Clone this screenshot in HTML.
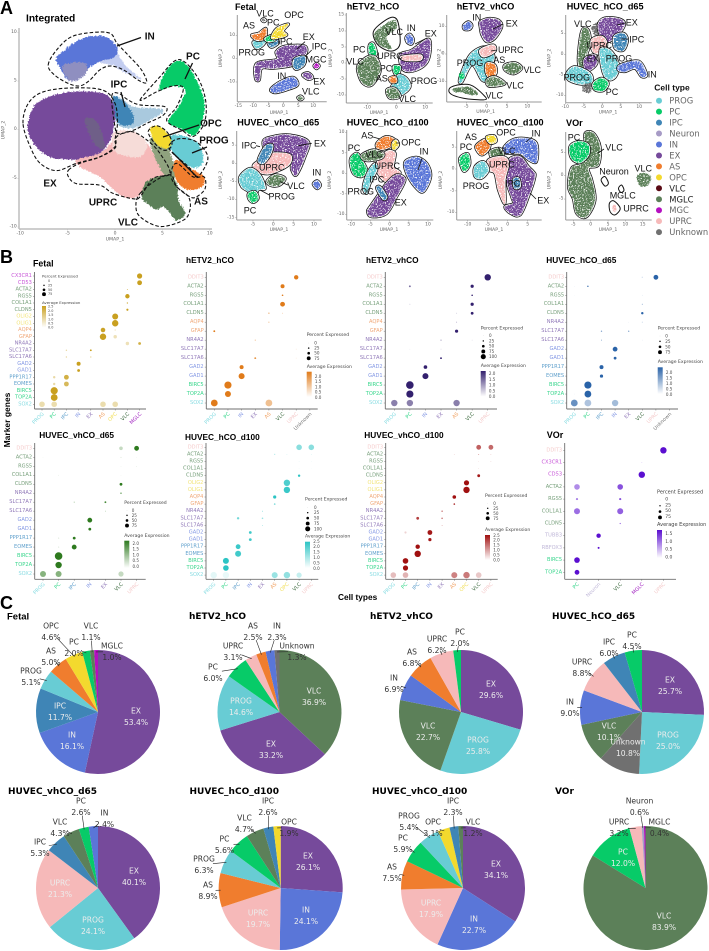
<!DOCTYPE html>
<html>
<head>
<meta charset="utf-8">
<title>Single-cell atlas figure</title>
<style>
html,body{margin:0;padding:0;background:#fff;width:709px;height:951px;overflow:hidden}
svg{display:block;font-family:"DejaVu Sans","Liberation Sans",sans-serif}
</style>
</head>
<body>
<svg id="figure" xmlns="http://www.w3.org/2000/svg" width="709" height="951" viewBox="0 0 709 951">
<defs>
<filter id="speckle" x="-15%" y="-15%" width="130%" height="130%" color-interpolation-filters="sRGB">
<feTurbulence type="fractalNoise" baseFrequency="0.75" numOctaves="2" seed="4" result="n"/>
<feDisplacementMap in="SourceGraphic" in2="n" scale="3" xChannelSelector="R" yChannelSelector="G" result="d"/>
<feColorMatrix in="n" type="matrix" values="0 0 0 0 0 0 0 0 0 0 0 0 0 0 0 9 0 0 0 -2.9" result="m"/>
<feComposite in="d" in2="m" operator="in"/>
</filter>
<filter id="rough" x="-10%" y="-10%" width="120%" height="120%" color-interpolation-filters="sRGB">
<feTurbulence type="fractalNoise" baseFrequency="0.6" numOctaves="2" seed="7" result="n"/>
<feDisplacementMap in="SourceGraphic" in2="n" scale="4" xChannelSelector="R" yChannelSelector="G"/>
</filter>
</defs>
</svg>
<script>
/* ---------- PANEL C: pie data ---------- */
const fetalPieLabels=["EX","IN","IPC","PROG","AS","OPC","PC","VLC","MGLC"];
const fetalPieValues=[53.4,16.1,11.7,5.1,5.0,4.6,2.0,1.1,1.0];
const etv2hCOPieLabels=["VLC","EX","PROG","PC","UPRC","AS","IN","Unknown"];
const etv2hCOPieValues=[36.9,33.2,14.6,6.0,3.1,2.5,2.3,1.3];
const etv2vhCOPieLabels=["EX","PROG","VLC","IN","AS","UPRC","PC"];
const etv2vhCOPieValues=[29.6,25.8,22.7,6.9,6.8,6.2,2.0];
const huvecD65PieLabels=["EX","PROG","Unknown","VLC","IN","UPRC","IPC","PC"];
const huvecD65PieValues=[25.7,25.0,10.8,10.1,9.0,8.8,6.0,4.5];
const huvecVhD65PieLabels=["EX","PROG","UPRC","IPC","VLC","PC","IN"];
const huvecVhD65PieValues=[40.1,24.1,21.3,5.3,4.3,2.6,2.4];
const huvecD100PieLabels=["EX","IN","UPRC","AS","PROG","PC","VLC","IPC","OPC"];
const huvecD100PieValues=[26.1,24.1,19.7,8.9,6.3,5.6,4.7,2.6,1.9];
const huvecVhD100PieLabels=["EX","IN","UPRC","AS","PC","PROG","OPC","IPC","VLC"];
const huvecVhD100PieValues=[34.1,22.7,17.9,7.5,5.9,5.4,3.1,2.3,1.2];
const vorPieLabels=["VLC","PC","UPRC","Neuron","MGLC"];
const vorPieValues=[83.9,12.0,3.2,0.6,0.4];

/* ---------- PANEL B: dot-plot data (gene, cell type, percent expressed, average expression) ---------- */
const fetalGenes=["CX3CR1","CD53","ACTA2","RGS5","COL1A1","CLDN5","OLIG2","OLIG1","AQP4","GFAP","NR4A2","SLC17A7","SLC17A6","GAD2","GAD1","PPP1R17","EOMES","BIRC5","TOP2A","SOX2"];
const fetalCats=["PROG","PC","IPC","IN","EX","AS","OPC","VLC","MGLC"];
const fetalDots=[["SOX2","PROG",65,.7],["SOX2","PC",65,.7],["SOX2","AS",65,.7],["SOX2","OPC",65,.7],["TOP2A","PC",80,2.5],["BIRC5","PC",85,2.5],["EOMES","PC",25,.8],["EOMES","IPC",55,1.7],["PPP1R17","PC",25,.8],["PPP1R17","IPC",55,2],["GAD1","IN",30,2.5],["GAD2","IN",45,2.5],["SLC17A6","IPC",12,1],["SLC17A6","EX",12,1],["SLC17A7","IPC",12,1],["SLC17A7","EX",18,2.5],["NR4A2","VLC",38,.6],["NR4A2","MGLC",30,2],["GFAP","AS",75,2.5],["GFAP","OPC",38,.6],["AQP4","AS",52,2.4],["AQP4","OPC",12,.6],["OLIG1","OPC",75,2.5],["OLIG2","OPC",70,2.5],["CLDN5","VLC",22,2.5],["COL1A1","VLC",12,2.2],["RGS5","VLC",50,2.5],["ACTA2","VLC",8,1.5],["CD53","MGLC",55,2.5],["CX3CR1","MGLC",60,2.5]];

const etv2hCOGenes=["DDIT3","ACTA2","RGS5","COL1A1","CLDN5","AQP4","GFAP","NR4A2","SLC17A7","SLC17A6","GAD2","GAD1","BIRC5","TOP2A","SOX2"];
const etv2hCOCats=["PROG","PC","IN","EX","AS","VLC","UPRC","Unknown"];
const etv2hCODots=[["DDIT3","UPRC",50,2],["ACTA2","VLC",45,2],["RGS5","VLC",15,2],["COL1A1","VLC",55,2],["CLDN5","AS",12,1],["CLDN5","VLC",8,.5],["AQP4","AS",8,1],["GFAP","PROG",18,2],["NR4A2","EX",8,1.2],["SLC17A7","UPRC",5,.4],["SLC17A6","EX",18,1.6],["SLC17A6","UPRC",5,.3],["GAD2","IN",45,2],["GAD1","IN",70,2],["BIRC5","PC",85,2],["TOP2A","PC",70,2],["SOX2","PROG",80,2],["SOX2","AS",80,.8]];

const etv2vhCOGenes=["DDIT3","ACTA2","RGS5","COL1A1","CLDN5","AQP4","GFAP","NR4A2","SLC17A7","SLC17A6","GAD2","GAD1","BIRC5","TOP2A","SOX2"];
const etv2vhCOCats=["PROG","PC","IN","EX","AS","VLC","UPRC"];
const etv2vhCODots=[["DDIT3","UPRC",75,2],["ACTA2","VLC",35,2],["ACTA2","PC",18,1.2],["RGS5","VLC",15,2],["COL1A1","VLC",35,2],["COL1A1","PC",8,.3],["CLDN5","VLC",30,2],["CLDN5","AS",8,.3],["AQP4","AS",8,.5],["GFAP","AS",35,2],["NR4A2","EX",8,1.2],["NR4A2","VLC",5,.3],["SLC17A7","EX",5,.4],["SLC17A7","PC",3,.2],["SLC17A6","EX",18,2],["GAD2","IN",40,2],["GAD1","IN",70,2],["BIRC5","PC",90,2],["TOP2A","PC",85,2],["SOX2","PROG",75,1],["SOX2","PC",75,1],["SOX2","AS",75,1]];

const huvecD65Genes=["DDIT3","ACTA2","RGS5","COL1A1","CLDN5","NR4A2","SLC17A7","SLC17A6","GAD2","GAD1","PPP1R17","EOMES","BIRC5","TOP2A","SOX2"];
const huvecD65Cats=["PROG","PC","IPC","IN","EX","VLC","UPRC","Unknown"];
const huvecD65Dots=[["DDIT3","UPRC",55,2],["DDIT3","VLC",12,.25],["ACTA2","PC",12,2],["ACTA2","PROG",3,.2],["RGS5","VLC",4,.3],["RGS5","PROG",3,.1],["COL1A1","VLC",8,1],["CLDN5","VLC",25,2],["NR4A2","VLC",8,.4],["NR4A2","EX",3,.2],["SLC17A7","IPC",10,1.4],["SLC17A7","EX",10,1.4],["SLC17A6","IPC",8,1],["SLC17A6","VLC",4,.2],["GAD2","IN",55,2],["GAD1","IN",30,2],["PPP1R17","IPC",45,2],["EOMES","IPC",35,2],["BIRC5","PC",85,2],["TOP2A","PC",80,2],["TOP2A","PROG",3,.2],["SOX2","PROG",80,1.3],["SOX2","PC",80,.6],["SOX2","IN",75,.7]];

const huvecVhD65Genes=["DDIT3","ACTA2","RGS5","COL1A1","CLDN5","NR4A2","SLC17A7","SLC17A6","GAD2","GAD1","PPP1R17","EOMES","BIRC5","TOP2A","SOX2"];
const huvecVhD65Cats=["PROG","PC","IPC","IN","EX","VLC","UPRC"];
const huvecVhD65Dots=[["DDIT3","UPRC",55,2],["DDIT3","VLC",40,.4],["ACTA2","VLC",6,.4],["ACTA2","PROG",3,.15],["ACTA2","UPRC",3,.15],["RGS5","VLC",3,.2],["RGS5","UPRC",3,.4],["COL1A1","PC",5,.2],["COL1A1","VLC",3,.15],["CLDN5","VLC",30,2],["NR4A2","VLC",12,1.6],["SLC17A7","IPC",8,.8],["SLC17A7","EX",18,1.7],["SLC17A6","EX",5,1],["GAD2","IN",55,2],["GAD1","IN",30,2],["PPP1R17","IPC",30,2],["PPP1R17","PC",10,.2],["EOMES","IPC",55,2],["EOMES","PC",10,.2],["BIRC5","PC",90,2],["TOP2A","PC",75,2],["SOX2","PROG",70,1],["SOX2","PC",70,1],["SOX2","VLC",60,.4]];

const huvecD100Genes=["DDIT3","ACTA2","RGS5","COL1A1","CLDN5","OLIG2","OLIG1","AQP4","GFAP","NR4A2","SLC17A7","SLC17A6","GAD2","GAD1","PPP1R17","EOMES","BIRC5","TOP2A","SOX2"];
const huvecD100Cats=["PROG","PC","IPC","IN","EX","AS","OPC","VLC","UPRC"];
const huvecD100Dots=[["DDIT3","VLC",65,1.2],["DDIT3","UPRC",65,1.2],["ACTA2","AS",10,.7],["ACTA2","OPC",6,.3],["ACTA2","UPRC",4,.5],["RGS5","VLC",5,.2],["RGS5","UPRC",3,.2],["COL1A1","VLC",3,.15],["COL1A1","UPRC",2,.15],["CLDN5","VLC",25,2.5],["OLIG2","OPC",75,2],["OLIG1","OPC",75,2.3],["AQP4","AS",35,2.5],["GFAP","AS",15,1.4],["NR4A2","EX",6,1.4],["SLC17A7","IPC",25,1.5],["SLC17A7","EX",15,1],["SLC17A6","EX",6,1],["GAD2","IN",30,2.2],["GAD1","IN",30,2.2],["PPP1R17","IPC",55,2.3],["EOMES","IPC",70,2.2],["BIRC5","PC",70,2.5],["TOP2A","PC",65,2.5],["SOX2","PROG",75,.2],["SOX2","PC",75,.15],["SOX2","AS",70,1],["SOX2","OPC",75,1.1],["SOX2","VLC",60,.5]];

const huvecVhD100Genes=["DDIT3","ACTA2","RGS5","COL1A1","CLDN5","OLIG2","OLIG1","AQP4","GFAP","NR4A2","SLC17A7","SLC17A6","GAD2","GAD1","PPP1R17","EOMES","BIRC5","TOP2A","SOX2"];
const huvecVhD100Cats=["PROG","PC","IPC","IN","EX","AS","OPC","VLC","UPRC"];
const huvecVhD100Dots=[["DDIT3","VLC",55,1.5],["DDIT3","UPRC",55,1.4],["ACTA2","AS",6,.3],["ACTA2","VLC",6,1.2],["ACTA2","UPRC",4,.6],["RGS5","VLC",3,.3],["RGS5","UPRC",5,.4],["COL1A1","VLC",3,.4],["CLDN5","VLC",30,2.4],["OLIG2","OPC",60,2.5],["OLIG1","OPC",75,2.5],["AQP4","AS",40,2.5],["GFAP","AS",15,2.2],["NR4A2","EX",12,1.5],["SLC17A7","IPC",30,1.9],["SLC17A7","EX",15,1.2],["SLC17A6","EX",6,.8],["GAD2","IN",55,2.4],["GAD2","PC",22,.3],["GAD1","IN",35,2.4],["PPP1R17","IPC",50,2.5],["EOMES","IPC",75,2.5],["BIRC5","PC",65,2.5],["TOP2A","PC",60,2.5],["SOX2","PROG",65,.5],["SOX2","PC",65,.6],["SOX2","AS",70,1.1],["SOX2","OPC",75,1.2],["SOX2","VLC",65,.4]];

const vorGenes=["DDIT3","CX3CR1","CD53","ACTA2","RGS5","COL1A1","CLDN5","TUBB3","RBFOX3","BIRC5","TOP2A"];
const vorCats=["PC","Neuron","VLC","MGLC","UPRC"];
const vorDots=[["DDIT3","UPRC",75,1.5],["CX3CR1","MGLC",8,.15],["CD53","MGLC",75,1.5],["ACTA2","PC",65,.6],["ACTA2","VLC",65,1],["RGS5","PC",22,.7],["RGS5","VLC",22,1],["COL1A1","PC",70,.8],["COL1A1","VLC",70,.9],["CLDN5","VLC",10,.9],["TUBB3","Neuron",50,1.5],["RBFOX3","Neuron",20,1.5],["BIRC5","PC",65,1.5],["TOP2A","PC",55,1.5]];

/* ---------- PANEL A: UMAP regions in UMAP units ---------- */
const integratedRegions=[
["INpale",[[-.2,8.2],[1.2,6.5],[2.8,5.2],[1.4,5.7],[-.2,6.6],[-1.6,7]]],
["IPCpale",[[.5,3.2],[1.9,2.35],[4.4,2.2],[5.1,1.85],[3.35,.8],[1.9,.15],[.2,.65]]],
["IPC",[[-.2,3.4],[1,2.8],[1.9,1.5],[1.75,.5],[.2,.8]]],
["IN",[[-6.2,7.3],[-5.3,8.2],[-4.2,9],[-2.6,9.6],[-.9,9.5],[.2,8.5],[0,7.5],[-1.6,7],[-2.8,6.3],[-3.7,5.3],[-4.9,5.1],[-5.6,6]]],
["INmix",[[-5.5,6.6],[-3.4,6.9],[-2.9,6.2],[-3.7,5.2],[-4.9,5.1]]],
["EX",[[-9.2,.65],[-8.45,2.5],[-6.9,3.4],[-4.4,3.9],[-1.6,3.8],[-.35,3.05],[0,1.3],[-.5,-1.05],[-1.6,-2.4],[-3.35,-3.05],[-5.1,-3.05],[-6.9,-2.8],[-8.3,-1.75],[-9.05,-.55]]],
["EXmix",[[-3.2,1],[-2,.9],[-1.2,-1],[-1.2,-2],[-2.2,-1.4]]],
["UPRC",[[0,-.2],[1.9,-.2],[3.35,-1.4],[4.75,-3.45],[5.45,-4.5],[3.7,-5.85],[2.3,-6.9],[.9,-6.9],[-.5,-5.85],[-1.6,-4.85],[-3.7,-3.8],[-4.05,-3.1],[-1.6,-2.4],[-.35,-1.25]]],
["UPRCpale",[[0,-.2],[1.9,-.2],[3.35,-1.4],[2.6,-2.8],[.2,-2.4],[-.3,-1.2]]],
["VLCmix",[[3.7,-.9],[5.3,-1.4],[6.3,-3.8],[6.15,-5.15],[5.1,-4.5],[4.2,-2.75]]],
["VLC",[[3.35,-5.35],[5.45,-4.65],[6.5,-5.5],[6.7,-7.2],[7.4,-8.6],[6.5,-9.3],[5.8,-8.6],[5.1,-7.9],[4.4,-8.2],[3.35,-7.55],[2.8,-6.9]]],
["PC",[[5.1,5.6],[6.35,7],[7.4,6.8],[8.6,5.1],[9.4,3.05],[9.3,1.35],[8.45,-.55],[6.85,.15],[5.6,.8],[6.7,2.35],[7.4,4.1],[6.15,4.5],[4.75,4.1]]],
["PROG",[[5.8,-.7],[6.85,-.55],[8.6,-1.25],[9.3,-2.8],[8.95,-3.8],[7.9,-3.8],[6.5,-2.75],[5.8,-1.9]]],
["AS",[[6.5,-3.1],[7.9,-3.95],[9.4,-4.85],[9.15,-5.85],[7.9,-6.2],[6.85,-5.7],[6.15,-4.15]]],
["OPC",[[3.7,.15],[4.75,.3],[5.8,-.7],[5.8,-1.75],[5.1,-1.9],[4.2,-1.25]]]
];
const integratedOutlines=[
[[-7.05,6.65],[-6.15,8.2],[-4.6,9.55],[-2.3,10],[-.5,9.9],[.2,8.9],[1.4,7.65],[2.8,6.15],[3.35,4.85],[2.45,5.1],[.9,6.15],[-.5,6.55],[-1.6,6.15],[-2.65,5.1],[-3.7,4.5],[-4.9,4.75],[-6.35,5.6]],
[[-9.7,.65],[-9.15,2.7],[-7.55,3.9],[-4.4,4.3],[-1.25,4.05],[0,2.7],[.25,.65],[0,-1.05],[0,-1.9],[-1.6,-2.8],[-4.05,-3.45],[-6.15,-4.2],[-7.9,-3.45],[-8.95,-1.75]],
[[-.35,3.4],[.35,3.75],[1.4,3.05],[2.65,2.55],[5.3,2.35],[5.1,1.5],[3.35,.65],[1.95,-.05],[.35,-.4],[0,.3]],
[[2.65,3.05],[4.75,5.45],[6.35,7.1],[7.55,6.8],[8.95,4.95],[9.6,2.7],[9.4,.65],[8.25,-.7],[7.05,-.05],[5.45,.95],[6.5,2.35],[7.2,4.25],[6.15,4.5],[4.4,3.9]],
[[3.5,-.2],[4.4,.4],[5.45,-.2],[6,-1.25],[5.8,-1.9],[5.1,-2.1],[4.2,-1.4]],
[[6,-1.25],[7.05,-.9],[8.6,-1.25],[9.75,-2.6],[9.5,-3.8],[8.6,-4.85],[7.75,-3.8],[5.8,-2.1]],
[[5.9,-4.65],[6.5,-3.45],[8.25,-4.85],[9.4,-4.85],[9.5,-6.05],[8.6,-6.9],[7.9,-6.9],[6.5,-5.85]],
[[-4.9,-4.15],[-3.7,-3.45],[-1.6,-2.8],[0,-1.75],[.2,-.7],[1.75,-.2],[3.35,-1.05],[4.75,-2.45],[5.8,-4.5],[4.05,-5],[2.65,-6.9],[1.95,-7.1],[-.2,-6.55],[-1.6,-5.7],[-4.05,-5.55],[-4.9,-4.85]],
[[2.65,-6.55],[4.4,-5.15],[5.9,-4.65],[6.5,-5.85],[7.75,-6.9],[7.9,-8.25],[7.2,-9.3],[4.75,-9.95],[2.65,-8.95],[2.2,-7.75]]
];
const fetalRegions=[
["EX",[[-8.9,-2],[-2.2,-.3],[-2.4,3],[.6,5.4],[7.2,5.4],[7.2,1.6],[3.3,.6],[3.3,-2.7],[-3.3,-4.1],[-7.2,-4.1],[-8,-9.1],[-9.3,-8.4]]],
["IPC",[[3.9,.1],[7.2,.9],[6.9,-2.7],[4.4,-4.6],[3.3,-2.7]]],
["IN",[[-4.2,-13.1],[-1.1,-9.9],[3.3,-8],[4.8,-11.3],[1.1,-13.4],[-2.8,-14.6]]],
["PROG",[[-10,7.3],[-6.1,8],[-6.7,5.9],[-8.9,4.4]]],
["AS",[[-10.6,10.1],[-8.3,10.9],[-5.8,13],[-6.1,8.7],[-8.9,8]]],
["IPC",[[-5,6.9],[-2.2,8],[-1.7,6.6],[-3.9,4.9]]],
["PC",[[-6.1,8.7],[-3.3,10.1],[-2.8,8],[-5,7.3]]],
["OPC",[[-3.9,9.1],[-2.2,13],[1.7,14.9],[0,12],[1.1,10.1],[-2.2,8.7]]],
["MGC",[[10.2,-3.1],[11.1,-2],[12,-3.1],[11.1,-4.3]]],
["EX",[[6.4,-7],[8.3,-6],[9.8,-8],[8.3,-8.9]]],
["VLC",[[4.8,-16.7],[5.8,-16],[6.6,-17],[5.6,-17.7]]],
["Unknown",[[-7.2,16.6],[-6.5,17.2],[-5.8,16.4],[-6.5,15.9]]]
];
const etv2hCORegions=[
["OUT",[[-7.9,9.8],[-4.5,12.9],[-1,14.3],[.7,12.4],[1.3,6.2],[-.5,4],[-3.4,4],[-6.8,6.2]]],
["VLC-",[[-7.5,9.3],[-3.3,12.4],[-.5,13.5],[.1,10.9],[-3.3,8.2],[-1.6,4.5],[-4.5,5],[-6.8,6.7]]],
["PC",[[-9.3,5.6],[-7.9,6.1],[-6.8,3],[-7.9,2],[-9.3,3]]],
["VLC",[[-13.1,-.6],[-9.7,2],[-6.8,1.5],[-5.6,-2.7],[-8.5,-6.9],[-11.4,-6.4],[-13.1,-3.3]]],
["IN",[[3.3,8],[4.7,9],[5.9,7.4],[5.3,5.9],[3.8,6.4]]],
["EX",[[1.3,2.5],[5.3,4],[11.3,7.4],[11,.9],[7,-2.2],[2.4,-2.2]]],
["UPRC",[[1.8,2],[8.2,2.5],[8.2,.9],[3,.9]]],
["PC",[[-1,-1.1],[1.3,-1.1],[.7,-3.75],[-.5,-3.4]]],
["PROG",[[.7,-3.75],[3.6,-4.8],[4.7,-7.6],[1.3,-10],[-1.6,-7.9],[-1,-6.4]]],
["AS",[[-2.4,-4.8],[-.5,-4.3],[.1,-5.8],[-1.6,-6.1]]],
["VLC",[[-3.3,-8.4],[-.5,-7.9],[1.3,-10.5],[-2.2,-11]]]
];
const etv2vhCORegions=[
["EX",[[-1.6,11.8],[.4,13],[2.9,12.4],[3.7,10],[2,5.7],[0,4.5],[-1.2,7],[-1.6,9.9]]],
["IN",[[-5.7,10.5],[-4.5,11.8],[-3.6,10.5],[-4.2,9],[-5.5,9]]],
["PROG",[[-6.6,-8.8],[-4.1,-.4],[-.4,2.6],[1.8,-1.1],[.1,-8.8],[-1.2,-9.5],[-3.6,-4],[-6.1,-10.3]]],
["UPRC",[[-1.6,1.5],[1.6,3.3],[2,.9],[-.8,-1]]],
["AS",[[0,-3.4],[2,-4],[2.3,-7.1],[.8,-8.9],[-.2,-6.5]]],
["VLC",[[4.5,-4],[7,-3.2],[8.6,-5.2],[6.6,-7.3],[4.5,-5.9]]],
["VLC",[[0,-9.5],[2,-8.3],[4.5,-10.7],[2.5,-11.7],[.4,-11.7]]],
["OUT",[[-8.6,-12],[-4.1,-11.3],[-.4,-15.6],[-.8,-16.8],[-5.7,-16.2],[-9,-14.4]]],
["VLC-",[[-8,-12.6],[-4.5,-12],[-2,-14.6],[-4,-15],[-6,-14],[-8,-14]]],
["PC-",[[-6.6,-7],[-5.6,-7],[-5.6,-9],[-6.6,-9]]]
];
const huvecD65Regions=[
["VLC",[[-5.6,5.5],[-3.8,5.9],[-3.2,2.7],[-4.2,-.2],[-3.8,-3],[-5.1,-4.2],[-6.5,-1.8]]],
["Unknown-",[[-2.9,6.7],[-.8,7.5],[-1.1,3.5],[-2.4,5.1]]],
["EX",[[-1.1,7.1],[.7,8.8],[4.8,8.5],[6,7.1],[3.9,4.3],[1.2,3],[-.2,3.9]]],
["IPC",[[3.2,4.3],[5.7,5.1],[6.8,3.5],[5.7,1],[3.4,1.5]]],
["UPRC",[[-2.9,3.5],[-.2,4.3],[1.2,2.7],[.3,.2],[-2.4,.6]]],
["PROG",[[-.6,1],[2.1,1],[4.3,-2.2],[3.9,-5],[2.1,-6.2],[.3,-4.6]]],
["EX",[[-4.7,-1],[-2,-.2],[-1.5,-2.2],[-3.3,-3.8],[-4.7,-3.4]]],
["PROG",[[-9.6,-4.6],[-7.4,-3],[-3.3,-4.6],[-2.9,-7],[-6,-7.2],[-9.1,-6.2]]],
["Unknown-",[[-5.1,-7.4],[-2.9,-7],[-3.3,-9.3],[-5.1,-9]]],
["PC",[[-2.4,-7],[-.2,-5.8],[1.6,-7],[.3,-8.8],[-2,-8.6]]],
["IN",[[4.8,-2.6],[8.8,-1.6],[10.6,-2.2],[12,-5],[10.6,-5.4],[8.8,-3.4],[6.1,-4.2],[4.3,-3.8]]]
];
const huvecVhD65Regions=[
["EX",[[-2.5,6],[-.4,7.3],[4.1,7.8],[8.6,6],[7.8,1.8],[5.7,-3.2],[4.5,-1.8],[4.1,1.4],[0,2.8],[-1.6,2.3]]],
["UPRC",[[-4.9,-.5],[-2,1.8],[0,2.8],[4.1,2.3],[3.7,-.5],[-.8,-2.8],[-3.7,-2.3]]],
["IPC",[[-3.7,.9],[-2,4.6],[-.2,5],[-.8,2.3],[-2.5,0]]],
["PROG",[[-8.2,-3.7],[-5.7,-1.4],[-3.3,-3.2],[-2,-6.9],[-3.7,-7.3],[-4.5,-10.1],[-6.1,-7.8],[-7.8,-6.4]]],
["VLC",[[-1.6,-5],[.4,-3.2],[2.9,-4.1],[1.6,-6],[-.4,-6.2]]],
["PC",[[-6.1,-8.3],[-4.5,-7.8],[-3.7,-9.6],[-4.9,-10.8],[-6,-9.9]]],
["IN",[[9.8,-5.7],[10.8,-4.8],[11.6,-6],[10.8,-7]]]
];
const huvecD100Regions=[
["PC",[[-10.3,3.3],[-8.6,4.9],[-7.3,3.3],[-6,.8],[-7.3,-.8],[-9.5,0]]],
["AS",[[-3.4,7.3],[-1.2,8.9],[1,8.5],[1.4,7.3],[-.8,6.1],[-3,5.9]]],
["OPC",[[.7,7.3],[1.7,8.1],[2.3,6.9],[1,5.7]]],
["UPRC",[[-3.4,2.4],[-.8,5.3],[1.4,4.9],[1,1.6],[2.7,0],[-.8,-2],[-3,0]]],
["VLC",[[-7.3,4.5],[-4.3,5.7],[-1.7,4.9],[-2.1,3.7],[-5.1,3.1],[-6.8,3.3]]],
["PROG",[[-6.9,-3.3],[-5.6,.4],[-3.8,2.4],[-3.4,.8],[-5.1,-2.4],[-6,-4.9]]],
["EX",[[-5.1,-8.1],[-3,-5.3],[-.8,-2.4],[1.8,-.4],[4,-1.6],[1.8,-5.7],[-.8,-9.8],[-4.7,-10.6],[-5.8,-9.3]]],
["IPC",[[-3.4,-3.7],[-2.5,-3.3],[-.8,-5.7],[-1.7,-6.3]]],
["IN",[[4,2.8],[7,3.9],[9.7,2.4],[10.7,-.8],[8.8,-4.5],[6.6,-3.3],[4.4,0]]]
];
const huvecVhD100Regions=[
["PC",[[-12,2.4],[-10,3.5],[-9.5,1],[-11,-.5]]],
["IN",[[-1.1,4.7],[1,6.6],[4.3,7],[7.2,5.9],[7.2,1.7],[5.2,2.1],[3.1,3.6],[-.3,3.6]]],
["AS",[[-7.8,5.5],[-5.7,6.8],[-4.4,6.3],[-4.8,4.4],[-6.5,3.2],[-7.8,4.4]]],
["OPC",[[-5.3,7.3],[-3.4,7.6],[-2.9,6.3],[-4.4,5.9]]],
["VLC",[[-4.4,4],[-1.9,4.7],[-1.1,2.8],[-3.6,2.2]]],
["EX",[[.2,2],[3.1,2.8],[5.2,.5],[6.4,-.6],[6.8,-1.8],[5.2,-6.3],[3.1,-10.5],[.6,-10.1],[-.7,-8.6],[1.4,-7.9],[1,-6.4],[-.3,-2.5]]],
["UPRC",[[-4.8,2.1],[-1.1,2.8],[.2,1.3],[-.7,-2.5],[-.7,-7.9],[-2.3,-4.8],[-3.2,-1],[-4.8,-.2]]],
["PROG",[[-8.2,.5],[-6.1,1.7],[-4.8,-.2],[-6.5,-2.1],[-8.2,-1.7]]],
["IPC",[[1.4,-2.5],[2.7,-2.1],[3.1,-4],[1.8,-4.4]]]
];
const vorRegions=[
["VLC",[[-1.6,9.1],[.8,9.1],[2.7,6.2],[2.2,2.3],[-.7,1.6],[.3,-.9],[1.25,-5.2],[-1.2,-8.8],[-4,-8.1],[-5,-5],[-6.4,-2.4],[-5.5,1.6],[-2.6,2.6],[-1.6,6.2]]],
["PC",[[-6,6.2],[-3.6,7.3],[-.7,6.6],[-.7,4.4],[-3.1,2.8],[-5.5,3.7]]],
["VLC-",[[13.3,-.2],[15.2,.6],[17.4,-.2],[16.6,-2],[14.2,-2.2]]],
["OUT",[[3,-.9],[4.1,-.2],[5.1,-1.6],[4.1,-2.2]]],
["OUT",[[8,-2.7],[8.9,-2],[9.6,-3.1],[8.7,-3.6]]],
["OUT",[[5.4,-5.9],[6.7,-5.4],[8.5,-7],[7,-8.4],[5.6,-7.7]]],
["UPRC-",[[6.3,-6.5],[7.2,-6.4],[7.4,-7.6],[6.6,-7.7]]]
];

/* ---------- styling & layout (not data) ---------- */
const NS='http://www.w3.org/2000/svg';
const svg=document.getElementById('figure');
const COLORS={PROG:'#68ccd4',PC:'#07cb68',IPC:'#3f85b6',Neuron:'#a79bc6',IN:'#5a76d8',EX:'#764a9b',AS:'#f07d2e',OPC:'#f3d92e',VLC:'#5c8059',MGLC:'#b40fc0',MGC:'#b40fc0',UPRC:'#f6b9b9',Unknown:'#707070',INpale:'#c3cdf0',INmix:'#8f8fc0',IPCpale:'#a9c9de',EXmix:'#6f5f88',UPRCpale:'#f6dcd8',VLCmix:'#8fa27e',OUT:'#ffffff'};
const GENE_COLORS={DDIT3:'#f5cccc',ACTA2:'#78a07c',RGS5:'#78a07c',COL1A1:'#78a07c',CLDN5:'#78a07c',OLIG1:'#f2e47a',OLIG2:'#f2e47a',AQP4:'#f0a878',GFAP:'#f0a878',NR4A2:'#9078b8',SLC17A6:'#9078b8',SLC17A7:'#9078b8',GAD1:'#8498e4',GAD2:'#8498e4',PPP1R17:'#60a0cc',EOMES:'#60a0cc',BIRC5:'#38d68c',TOP2A:'#38d68c',SOX2:'#88dce2',CX3CR1:'#c858d8',CD53:'#c858d8',TUBB3:'#c0b8d8',RBFOX3:'#c0b8d8'};
const CAT_COLORS={PROG:'#88dce2',PC:'#38d68c',IPC:'#60a0cc',IN:'#8498e4',EX:'#9078b8',AS:'#f0a060',OPC:'#f2e060',VLC:'#3f6d42',MGLC:'#a020c0',UPRC:'#f5cccc',Unknown:'#777777',Neuron:'#c0b8d8'};
const LIB='"Liberation Sans",sans-serif';

function make(tag,attrs,parent){
  const e=document.createElementNS(NS,tag);
  for(const k in attrs)e.setAttribute(k,attrs[k]);
  (parent||svg).appendChild(e);
  return e;
}
function group(name,parent){
  const g=make('g',{},parent);
  
  
  return g;
}
function drawText(name,txt,x,y,size,fill,parent,extra){
  const attrs={x:x,y:y,'font-size':size,fill:fill,'dominant-baseline':'central'};
  if(extra)for(const k in extra)attrs[k]=extra[k];
  const t=make('text',attrs,parent);
  t.textContent=txt;
  
  
  return t;
}
function drawLine(name,x1,y1,x2,y2,stroke,w,parent){
  const l=make('line',{x1:x1,y1:y1,x2:x2,y2:y2,stroke:stroke,'stroke-width':w},parent);
  
  
  return l;
}
function smoothPath(pts){
  const n=pts.length;let d='M'+pts[0][0].toFixed(1)+' '+pts[0][1].toFixed(1);
  for(let i=0;i<n;i++){
    const p0=pts[(i-1+n)%n],p1=pts[i],p2=pts[(i+1)%n],p3=pts[(i+2)%n];
    const c1x=p1[0]+(p2[0]-p0[0])/6,c1y=p1[1]+(p2[1]-p0[1])/6,c2x=p2[0]-(p3[0]-p1[0])/6,c2y=p2[1]-(p3[1]-p1[1])/6;
    d+='C'+c1x.toFixed(1)+' '+c1y.toFixed(1)+' '+c2x.toFixed(1)+' '+c2y.toFixed(1)+' '+p2[0].toFixed(1)+' '+p2[1].toFixed(1);
  }
  return d+'Z';
}
function mixWhite(hex,t){
  t=Math.max(0,Math.min(1,t));
  const c=[1,3,5].map(i=>parseInt(hex.substr(i,2),16));
  return 'rgb('+c.map(v=>Math.round(255+(v-255)*t)).join(',')+')';
}

/* ---------- fixed figure text ---------- */
const bigStyle={'font-family':LIB,'font-weight':'bold'};
drawText('panel-a-letter','A',0,8,18,'#000',svg,bigStyle);
drawText('panel-b-letter','B',0,257,18,'#000',svg,bigStyle);
drawText('panel-c-letter','C',0,603,18,'#000',svg,bigStyle);
drawText('x-axis-title-cell-types','Cell types',338,597,8.3,'#000',svg,bigStyle);
drawText('y-axis-title-marker-genes','Marker genes',0,0,8.5,'#000',svg,Object.assign({transform:'translate(7,420) rotate(-90)','text-anchor':'middle'},bigStyle));

/* ---------- UMAP panels ---------- */
function drawUmap(cfg){
  const g=group('umap-'+cfg.id);
  const sx=u=>cfg.x0+cfg.kx*u, sy=v=>cfg.y0-cfg.ky*v;
  const axisColor=cfg.axisColor||'#9a9a9a', axisW=cfg.axisW||1;
  drawLine('umap-y-axis',cfg.left,cfg.top,cfg.left,cfg.bottom,axisColor,axisW,g);
  drawLine('umap-x-axis',cfg.left,cfg.bottom,cfg.right,cfg.bottom,axisColor,axisW,g);
  cfg.xTicks.forEach(t=>{
    drawLine('umap-x-tick',sx(t),cfg.bottom,sx(t),cfg.bottom+1.5,axisColor,.6,g);
    drawText('umap-x-tick-label',String(t),sx(t),cfg.bottom+5,4.5,'#666',g,{'text-anchor':'middle'});
  });
  cfg.yTicks.forEach(t=>{
    drawLine('umap-y-tick',cfg.left-1.5,sy(t),cfg.left,sy(t),axisColor,.6,g);
    drawText('umap-y-tick-label',String(t),cfg.left-2.2,sy(t),4.5,'#666',g,{'text-anchor':'end'});
  });
  drawText('umap-x-axis-title','UMAP_1',cfg.xt[0],cfg.xt[1],4.7,'#666',g,{'text-anchor':'middle'});
  drawText('umap-y-axis-title','UMAP_2',0,0,4.7,'#666',g,{'text-anchor':'middle',transform:'translate('+cfg.yt[0]+','+cfg.yt[1]+') rotate(-90)'});
  const titleStyle={'font-family':LIB,'font-weight':'bold'};
  drawText('umap-title',cfg.title,cfg.tx,cfg.ty,cfg.tsize||9.1,'#000',g,titleStyle);
  cfg.regions.forEach(r=>{
    const noOutline=r[0].endsWith('-');
    const type=noOutline?r[0].slice(0,-1):r[0];
    const d=smoothPath(r[1].map(p=>[sx(p[0]),sy(p[1])]));
    if(!noOutline&&!cfg.noStroke){
      const oBlack=make('path',{d:d,fill:'#fff',stroke:'#111','stroke-width':type==='OUT'?1:3,'stroke-linejoin':'round'},g);
      
      
      if(type!=='OUT'){
        const oWhite=make('path',{d:d,fill:'#fff',stroke:'#fff','stroke-width':1.5,'stroke-linejoin':'round'},g);
        
        
      }
    }
    if(type!=='OUT'){
      const f=make('path',{d:d,fill:COLORS[type],filter:'url(#'+(cfg.filter||'speckle')+')'},g);
      
      
    }
  });
  (cfg.outlines||[]).forEach(o=>{
    const p=make('path',{d:smoothPath(o.map(q=>[sx(q[0]),sy(q[1])])),fill:'none',stroke:'#111','stroke-width':1.1,'stroke-dasharray':'3.6 2'},g);
    
    
  });
  (cfg.leaders||[]).forEach(l=>{drawLine('cluster-leader',l[0],l[1],l[2],l[3],'#111',cfg.leaderW||.8,g);});
  cfg.labels.forEach(l=>{
    drawText('cluster-label-'+l[0],l[0],l[1],l[2],cfg.lsize||9,'#111',g,{'text-anchor':'middle','font-family':LIB,'font-weight':cfg.lweight||'normal'});
  });
}
const tickSet=[-10,-5,0,5,10];
const umapConfigs=[
{id:'integrated',title:'Integrated',tx:26,ty:19,tsize:10.2,x0:115,kx:9.48,y0:129.7,ky:9.73,left:19,top:28,bottom:229,right:212,axisColor:'#bdbdbd',axisW:1.5,xTicks:tickSet,yTicks:tickSet,xt:[115,240],yt:[4,130],regions:integratedRegions,outlines:integratedOutlines,filter:'rough',noStroke:true,lsize:10,lweight:'bold',leaderW:1.3,
 labels:[['IN',149.7,37],['PC',193,57],['IPC',119,85],['OPC',211,124],['PROG',214,141],['EX',50,184],['UPRC',103,203],['VLC',128,223],['AS',201,202]],
 leaders:[[117,46,141,37.5],[185,79,192.5,63],[125,107,121,92],[163,137,199,125],[192,153,207,147],[197,177,172,152]]},
{id:'fetal',title:'Fetal',tx:235,ty:7,x0:283.3,kx:3,y0:58.7,ky:2.33,left:237.3,top:15,bottom:101.7,right:326.7,xTicks:[-15,-10,-5,0,5,10],yTicks:[-10,0,10],xt:[279,113.7],yt:[221.7,58],regions:fetalRegions,
 labels:[['VLC',265,13.3],['OPC',294,15],['PC',273.3,22.7],['AS',249,25.3],['IPC',285,41.3],['EX',308.7,37],['IPC',319.3,46.7],['PROG',251.7,52.3],['MGC',316,59.3],['EX',319.3,81.3],['IN',281.7,76],['VLC',310.7,91.3]],
 leaders:[[296.7,49.3,305,41.7],[305,56.7,311.7,50]]},
{id:'hetv2-hco',title:'hETV2_hCO',tx:346.7,ty:6.5,x0:396.3,kx:2.9,y0:63,ky:3.2,left:346.3,top:13,bottom:103,right:432.7,xTicks:[-10,0,10],yTicks:[-10,-5,0,5,10,15],xt:[379,113.7],yt:[331.7,58],regions:etv2hCORegions,
 labels:[['VLC',394.3,32],['IN',411.3,28],['EX',430.7,33.3],['PC',359.3,49.3],['UPRC',390,56],['VLC',355,61.3],['PC',386,68.3],['AS',381.7,78.3],['PROG',424,81],['VLC',407.3,99]],
 leaders:[[415,44,427,38]]},
{id:'hetv2-vhco',title:'hETV2_vhCO',tx:456.7,ty:6.5,x0:486.7,kx:4.07,y0:54,ky:2.73,left:446.7,top:15,bottom:102,right:541.7,xTicks:[-5,0,5,10],yTicks:[-10,0,10],xt:[485.7,112.7],yt:[440,58],regions:etv2vhCORegions,
 labels:[['IN',476.7,17.3],['EX',511.7,23.3],['UPRC',510.7,50],['PROG',470,63],['AS',499.3,60],['VLC',532.3,70],['VLC',515,85.7],['VLC',494.3,95.7]],
 leaders:[[493,29,503,24],[491,51,497,50]]},
{id:'huvec-hco-d65',title:'HUVEC_hCO_d65',tx:566.7,ty:6.5,x0:602.3,kx:3.7,y0:54.3,ky:4.13,left:565.7,top:15,bottom:102.7,right:651.7,xTicks:tickSet,yTicks:[-10,-5,0,5],xt:[608,113],yt:[550,58],regions:huvecD65Regions,
 labels:[['VLC',582.7,24],['EX',631.7,22.7],['IPC',636.7,39.3],['UPRC',599.3,45.7],['EX',592.7,58.3],['PROG',619,58.7],['PROG',576.7,77.3],['PC',612,92],['IN',652.3,74.3]],
 leaders:[[617,25,625,23],[621,39,628,39]]},
{id:'huvec-vhco-d65',title:'HUVEC_vhCO_d65',tx:237.3,ty:122.7,x0:273.3,kx:4.07,y0:163.3,ky:3.63,left:236.7,top:131,bottom:220,right:321.7,xTicks:[-5,0,5,10],yTicks:[-15,-10,-5,0,5],xt:[279,230.7],yt:[221.7,180],regions:huvecVhD65Regions,
 labels:[['IPC',249,145.3],['EX',320,143.3],['UPRC',271.7,167.3],['VLC',296,186],['PROG',281.7,196.7],['PC',250,210.7],['IN',316.7,172.7]],
 leaders:[[298.3,145.7,311.7,143.3],[260,146.7,256,145.7],[260,190,269.3,195],[280,181.7,288,185]]},
{id:'huvec-hco-d100',title:'HUVEC_hCO_d100',tx:346.7,ty:122.7,x0:389.7,kx:3.83,y0:173.3,ky:4.1,left:346.7,top:130,bottom:220,right:433.3,xTicks:tickSet,yTicks:tickSet,xt:[389,230.7],yt:[330.7,180],regions:huvecD100Regions,
 labels:[['AS',367.3,135.3],['OPC',411,142.7],['PC',354,148],['VLC',374,154.3],['IN',424,151.7],['UPRC',387.3,166],['IPC',376.7,179.3],['PROG',360.7,191.3],['EX',400.7,202.7]],
 leaders:[[373,137,380,139],[396,143,400,143],[418,170,422,158]]},
{id:'huvec-vhco-d100',title:'HUVEC_vhCO_d100',tx:456.7,ty:122.7,x0:507.7,kx:4,y0:169,ky:4.37,left:456.7,top:131,bottom:220,right:541.7,xTicks:[-10,-5,0,5],yTicks:[-10,-5,0,5],xt:[494,230.7],yt:[441.7,180],regions:huvecVhD100Regions,
 labels:[['AS',471,137],['PC',466,147],['OPC',506,132.7],['IN',536,133.3],['VLC',506.7,151],['UPRC',501.7,164.3],['PROG',476,186],['IPC',512.7,183.3],['EX',543.3,200.7]],
 leaders:[[526,142,532,137],[530,193,536,199]]},
{id:'vor',title:'VOr',tx:566,ty:123,x0:590.7,kx:3.47,y0:175.7,ky:4.67,left:565.7,top:132,bottom:220,right:651.7,xTicks:[-5,0,5,10,15],yTicks:[-5,0,5],xt:[608,230.7],yt:[550,180],regions:vorRegions,
 labels:[['PC',574,137.3],['VLC',614,147.3],['VLC',643.3,168.3],['Neuron',614,171.3],['MGLC',622.7,195.3],['UPRC',636,208.3]],
 leaders:[[598,153,604,149]]}
];
umapConfigs.forEach(drawUmap);

/* ---------- cell type legend ---------- */
const legendTypes=["PROG","PC","IPC","Neuron","IN","EX","AS","OPC","VLC","MGLC","MGC","UPRC","Unknown"];
const legendGroup=group('cell-type-legend');
drawText('legend-title','Cell type',654.3,87.7,8.5,'#111',legendGroup,bigStyle);
legendTypes.forEach((t,i)=>{
  const y=100.7+i*10.95;
  const col=t==='VLC'?'#5a0a14':(t==='MGLC'?'#5c8059':COLORS[t]);
  const c=make('circle',{cx:659,cy:y,r:3,fill:col},legendGroup);
  
  
  const strong=t==='VLC'||t==='MGLC';
  drawText('legend-entry-'+t,t,669.3,y,8.4,strong?'#222':'#666',legendGroup);
});

/* ---------- dot plots ---------- */
function drawDotPlot(cfg){
  const g=group('dotplot-'+cfg.id);
  const yScale=i=>cfg.yFirst+i*cfg.yStep, xScale=i=>cfg.xFirst+i*cfg.xStep;
  const rScale=p=>.2+.04*p;
  const AX='#6f6f6f';
  drawText('dotplot-title',cfg.title,cfg.tx,cfg.ty,cfg.tsize||8.3,'#000',g,{'font-family':LIB,'font-weight':'bold'});
  drawLine('dotplot-y-axis',cfg.axisX,cfg.top,cfg.axisX,cfg.bottom,AX,.9,g);
  drawLine('dotplot-x-axis',cfg.axisX,cfg.bottom,cfg.right,cfg.bottom,AX,.9,g);
  cfg.genes.forEach((gene,i)=>{
    drawLine('gene-tick',cfg.axisX-1.5,yScale(i),cfg.axisX,yScale(i),AX,.5,g);
    drawText('gene-label-'+gene,gene,cfg.axisX-2.6,yScale(i),5.1,GENE_COLORS[gene],g,{'text-anchor':'end'});
  });
  cfg.cats.forEach((cat,i)=>{
    const x=xScale(i);
    drawLine('category-tick',x,cfg.bottom,x,cfg.bottom+1.5,AX,.5,g);
    drawText('category-label-'+cat,cat,0,0,5,CAT_COLORS[cat],g,{'text-anchor':'end',transform:'translate('+(x+1.5)+','+(cfg.bottom+4.5)+') rotate(-45)'});
  });
  cfg.dots.forEach(d=>{
    const gi=cfg.genes.indexOf(d[0]), ci=cfg.cats.indexOf(d[1]);
    const c=make('circle',{cx:xScale(ci),cy:yScale(gi),r:rScale(d[2]),fill:mixWhite(cfg.color,Math.pow(d[3]/cfg.maxExp,.8))},g);
    
    
  });
  const L=cfg.legend, fs=L.fs||4.6;
  drawText('percent-legend-title','Percent Expressed',L.x,L.pctY,fs,'#444',g);
  L.pct.forEach((p,i)=>{
    const y=L.dotY+i*L.dotStep;
    const c=make('circle',{cx:L.dotX,cy:y,r:Math.max(.25,rScale(p)*.6),fill:p===0?'#bbb':'#000'},g);
    
    
    drawText('percent-legend-label',String(p),L.labX,y,fs-.5,'#444',g);
  });
  drawText('average-legend-title','Average Expression',L.x,L.avgY,fs,'#444',g);
  const gid='grad-'+cfg.id;
  const defs=make('defs',{},g);
  const lg=make('linearGradient',{id:gid,x1:0,y1:0,x2:0,y2:1},defs);
  make('stop',{offset:'0','stop-color':cfg.color},lg);
  make('stop',{offset:'1','stop-color':'#ffffff'},lg);
  const bar=make('rect',{x:L.x,y:L.barTop,width:L.barW||5,height:L.barBot-L.barTop,fill:'url(#'+gid+')'},g);
  
  
  L.ticks.forEach((t,i)=>{
    const y=L.tick0+i*(L.tickN-L.tick0)/(L.ticks.length-1);
    drawText('colorbar-tick-label',t.toFixed(1),L.x+(L.labOff||8.2),y,fs-.5,'#444',g);
  });
}
const t25=[2.5,2,1.5,1,.5,0], t20=[2,1.5,1,.5,0];
const dotPlotConfigs=[
{id:'fetal',title:'Fetal',tx:33,ty:263.5,tsize:8.8,axisX:34.5,top:272,bottom:409,right:146,genes:fetalGenes,cats:fetalCats,dots:fetalDots,color:'#c9a020',maxExp:2.5,yFirst:276,yStep:6.75,xFirst:42,xStep:12.2,
 legend:{x:42,pctY:276,dotX:44,dotY:281,dotStep:4.4,labX:48,pct:[0,25,50,75],avgY:302.7,barTop:306,barBot:327.5,tick0:306.7,tickN:327.7,ticks:t25,fs:3.9,barW:4,labOff:6}},
{id:'hetv2-hco',title:'hETV2_hCO',tx:186,ty:260,axisX:206.3,top:272,bottom:409,right:317.7,genes:etv2hCOGenes,cats:etv2hCOCats,dots:etv2hCODots,color:'#e07b1a',maxExp:2,yFirst:277.3,yStep:8.98,xFirst:214.3,xStep:13.65,
 legend:{x:306.7,pctY:335.7,dotX:308.7,dotY:343,dotStep:5.1,labX:314.3,pct:[0,25,50,75],avgY:367.3,barTop:371.7,barBot:397,tick0:376.3,tickN:397.3,ticks:t20}},
{id:'hetv2-vhco',title:'hETV2_vhCO',tx:366,ty:260,axisX:385.3,top:272,bottom:409,right:497,genes:etv2vhCOGenes,cats:etv2vhCOCats,dots:etv2vhCODots,color:'#33206e',maxExp:2,yFirst:277.3,yStep:8.98,xFirst:394.3,xStep:15.57,
 legend:{x:480.7,pctY:329,dotX:483.3,dotY:335.7,dotStep:5.25,labX:489,pct:[0,25,50,75,100],avgY:366.7,barTop:371,barBot:396.5,tick0:373.7,tickN:396.7,ticks:t20}},
{id:'huvec-hco-d65',title:'HUVEC_hCO_d65',tx:546.3,ty:260,axisX:566.7,top:272,bottom:409,right:678,genes:huvecD65Genes,cats:huvecD65Cats,dots:huvecD65Dots,color:'#2a63a8',maxExp:2,yFirst:277.3,yStep:8.98,xFirst:574.3,xStep:13.6,
 legend:{x:657.7,pctY:329,dotX:660,dotY:336,dotStep:5.4,labX:665.3,pct:[0,25,50,75],avgY:362.3,barTop:367.3,barBot:394,tick0:372.3,tickN:394.3,ticks:t20}},
{id:'huvec-vhco-d65',title:'HUVEC_vhCO_d65',tx:39.3,ty:435,axisX:34.7,top:443,bottom:579.3,right:145.7,genes:huvecVhD65Genes,cats:huvecVhD65Cats,dots:huvecVhD65Dots,color:'#2e7a1f',maxExp:2,yFirst:448.3,yStep:8.98,xFirst:43,xStep:15.6,
 legend:{x:124.3,pctY:503.3,dotX:127,dotY:510.3,dotStep:5.1,labX:131.7,pct:[0,25,50,75],avgY:536.3,barTop:540.7,barBot:568,tick0:543.3,tickN:566.3,ticks:t20}},
{id:'huvec-hco-d100',title:'HUVEC_hCO_d100',tx:185,ty:437,axisX:206,top:443,bottom:579.3,right:318.3,genes:huvecD100Genes,cats:huvecD100Cats,dots:huvecD100Dots,color:'#2cc4c4',maxExp:2.5,yFirst:447.3,yStep:7.1,xFirst:213.7,xStep:12.2,
 legend:{x:305,pctY:500,dotX:307.7,dotY:507.3,dotStep:5.4,labX:314,pct:[0,25,50,75,100],avgY:537,barTop:541.7,barBot:568,tick0:541.3,tickN:568.3,ticks:t25}},
{id:'huvec-vhco-d100',title:'HUVEC_vhCO_d100',tx:364.3,ty:435,axisX:385.7,top:443,bottom:579.3,right:497.7,genes:huvecVhD100Genes,cats:huvecVhD100Cats,dots:huvecVhD100Dots,color:'#a01010',maxExp:2.5,yFirst:447.3,yStep:7.1,xFirst:393.3,xStep:12.2,
 legend:{x:485,pctY:496.7,dotX:487.7,dotY:503.3,dotStep:5,labX:493.3,pct:[0,25,50,75],avgY:530.7,barTop:535,barBot:560,tick0:535.3,tickN:560,ticks:t25}},
{id:'vor',title:'VOr',tx:546.7,ty:435,tsize:9,axisX:564.7,top:443,bottom:579.3,right:676,genes:vorGenes,cats:vorCats,dots:vorDots,color:'#5b0fd0',maxExp:1.5,yFirst:450.3,yStep:12.2,xFirst:577,xStep:21.6,
 legend:{x:657,pctY:492.3,dotX:660,dotY:500,dotStep:5.8,labX:665.3,pct:[0,25,50,75],avgY:525,barTop:530,barBot:558,tick0:534.7,tickN:558,ticks:[1.5,1,.5,0],fs:5}}
];
dotPlotConfigs.forEach(drawDotPlot);

/* ---------- pies ---------- */
const PIE_R=62;
function drawPie(cfg){
  const g=group('pie-'+cfg.id);
  const isLib=cfg.title==='Fetal';
  drawText('pie-title',cfg.title,cfg.tx,cfg.ty,isLib?9.5:9,'#000',g,{'font-family':isLib?LIB:'"DejaVu Sans",sans-serif','font-weight':'bold'});
  const total=cfg.values.reduce((a,b)=>a+b,0);
  let acc=0;
  const mids=[];
  cfg.values.forEach((v,i)=>{
    const a0=acc/total*2*Math.PI; acc+=v; const a1=acc/total*2*Math.PI;
    const x0=cfg.cx+PIE_R*Math.sin(a0),y0=cfg.cy-PIE_R*Math.cos(a0),x1=cfg.cx+PIE_R*Math.sin(a1),y1=cfg.cy-PIE_R*Math.cos(a1);
    const large=(a1-a0)>Math.PI?1:0;
    const s=make('path',{d:'M'+cfg.cx+' '+cfg.cy+'L'+x0.toFixed(2)+' '+y0.toFixed(2)+'A'+PIE_R+' '+PIE_R+' 0 '+large+' 1 '+x1.toFixed(2)+' '+y1.toFixed(2)+'Z',fill:COLORS[cfg.labels[i]]},g);
    
    
    mids.push((a0+a1)/2);
  });
  cfg.labels.forEach((lab,i)=>{
    const nx=cfg.pos[i][0],ny=cfg.pos[i][1];
    const px=nx,py=ny+5.6;
    const outside=Math.hypot(px-cfg.cx,py-cfg.cy)>50;
    if(outside){
      const tx=cfg.cx+.97*PIE_R*Math.sin(mids[i]),ty=cfg.cy-.97*PIE_R*Math.cos(mids[i]);
      const len=Math.hypot(tx-px,ty-py);
      const off=Math.min(9,len*.6);
      drawLine('pie-leader',px+(tx-px)/len*off,py+(ty-py)/len*off,tx,ty,'#222',.6,g);
    }
    const col=outside?'#333':'#ececec';
    drawText('pie-label-'+lab,lab,nx,ny,7.6,col,g,{'text-anchor':'middle'});
    drawText('pie-percent-'+lab,cfg.values[i].toFixed(1)+'%',nx,ny+11.3,7.6,col,g,{'text-anchor':'middle'});
  });
}
const pieConfigs=[
{id:'fetal',title:'Fetal',tx:7,ty:617,cx:98,cy:712,labels:fetalPieLabels,values:fetalPieValues,pos:[[136,711],[72,735],[60,706],[31,671],[51,651],[51,626],[74,642],[91,626],[112,646]]},
{id:'hetv2-hco',title:'hETV2_hCO',tx:189,ty:617,cx:279.5,cy:712,labels:etv2hCOPieLabels,values:etv2hCOPieValues,pos:[[314,691],[271,744],[241,701],[213,667],[233,646],[253,626],[277,626],[297,646]]},
{id:'hetv2-vhco',title:'hETV2_vhCO',tx:370,ty:617,cx:461,cy:712,labels:etv2vhCOPieLabels,values:etv2vhCOPieValues,pos:[[491,684],[478,740],[428,726],[394,678],[412,652],[437,639],[460,632]]},
{id:'huvec-hco-d65',title:'HUVEC_hCO_d65',tx:552,ty:617,cx:642,cy:712,labels:huvecD65PieLabels,values:huvecD65PieValues,pos:[[670,680],[668,735],[628,742],[609,726],[570,702],[582,662],[609,642],[632,635]]},
{id:'huvec-vhco-d65',title:'HUVEC_vhCO_d65',tx:8,ty:792,cx:98,cy:888,labels:huvecVhD65PieLabels,values:huvecVhD65PieValues,pos:[[134,871],[93,920],[60,883],[40,842],[60,822],[81,801],[104.5,813]]},
{id:'huvec-hco-d100',title:'HUVEC_hCO_d100',tx:189.5,ty:792,cx:280.7,cy:888,labels:huvecD100PieLabels,values:huvecD100PieValues,pos:[[308,856],[306,910],[258,913],[208,885],[204,859],[224.5,839],[244.5,818],[268,801],[289,822]]},
{id:'huvec-vhco-d100',title:'HUVEC_vhCO_d100',tx:372,ty:792,cx:463,cy:888,labels:huvecVhD100PieLabels,values:huvecVhD100PieValues,pos:[[496,864],[474,919],[431,903],[392,867],[403,838],[409,816],[433,822],[453,801],[473,822]]},
{id:'vor',title:'VOr',tx:555,ty:792,cx:645.5,cy:888,labels:vorPieLabels,values:vorPieValues,pos:[[664,916],[623,852],[619,822],[639.5,801],[659.5,822]]}
];
pieConfigs.forEach(drawPie);
</script>
</body>
</html>
